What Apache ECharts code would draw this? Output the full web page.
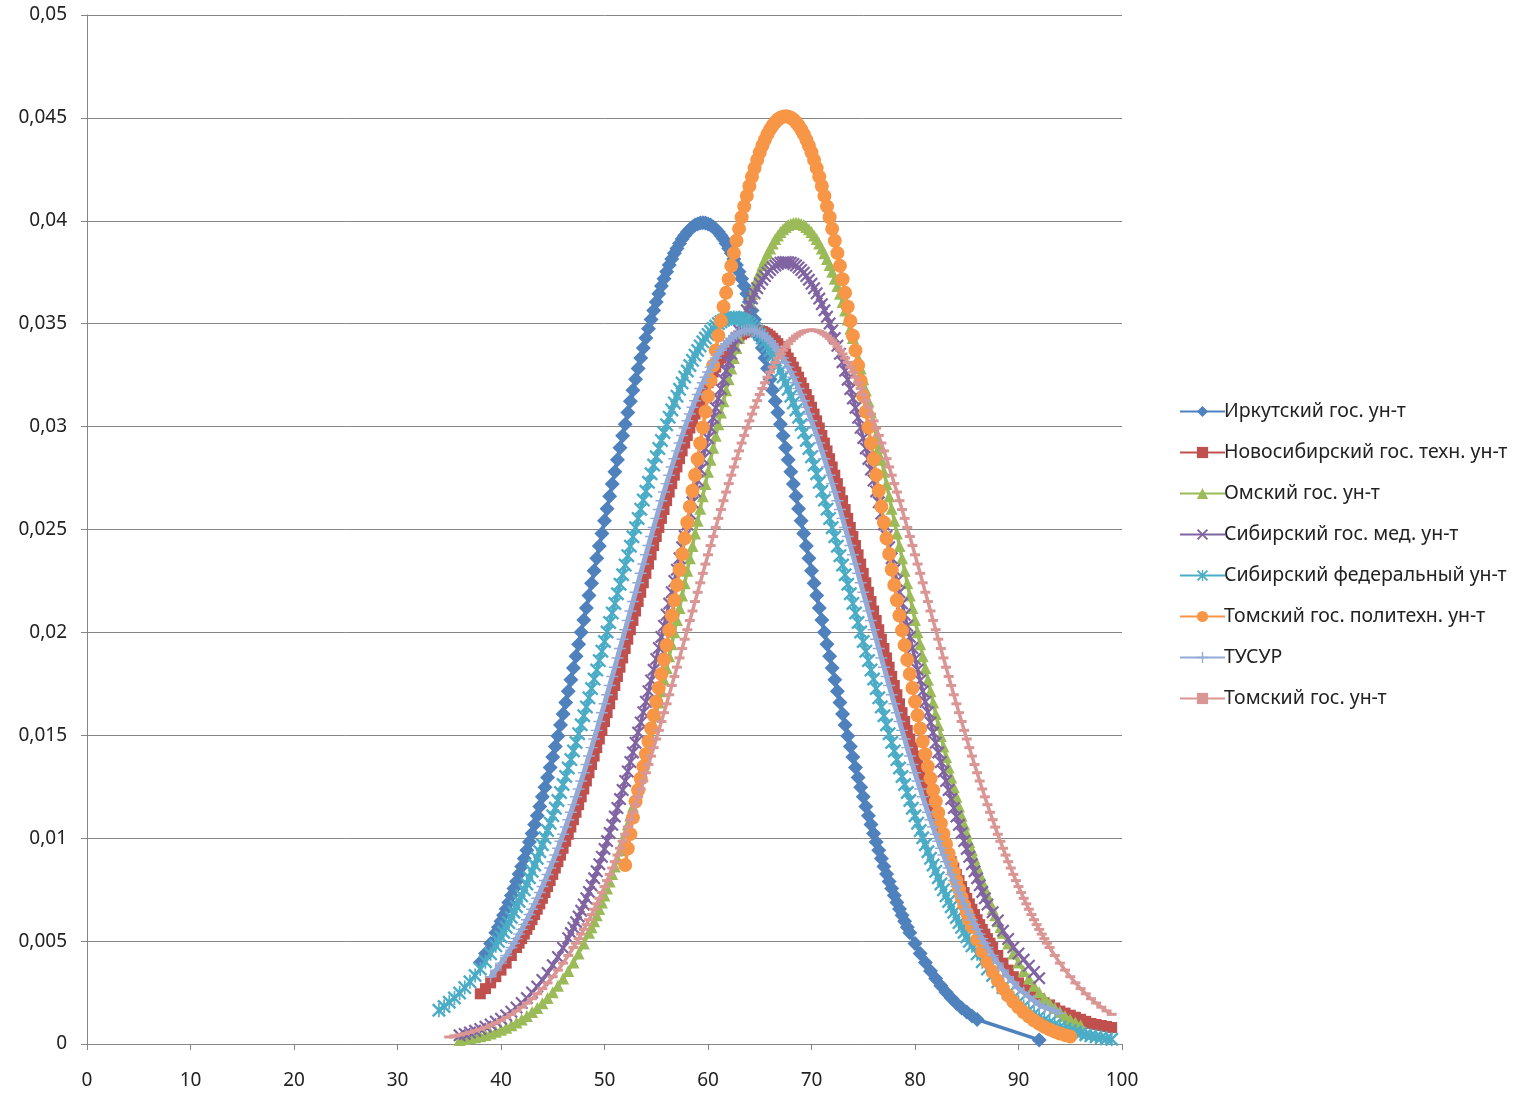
<!DOCTYPE html>
<html>
<head>
<meta charset="utf-8">
<script src="https://cdn.jsdelivr.net/npm/echarts@6/dist/echarts.min.js"></script>
<style>
html,body{margin:0;padding:0;background:#fff;}
#chart{width:1514px;height:1093px;}
</style>
</head>
<body>
<div id="chart"></div>
<script>
// ---- data ----
var seriesNames = [
  'Иркутский гос. ун-т',
  'Новосибирский гос. техн. ун-т',
  'Омский гос. ун-т',
  'Сибирский гос. мед. ун-т',
  'Сибирский федеральный ун-т',
  'Томский гос. политехн. ун-т',
  'ТУСУР',
  'Томский гос. ун-т'
];

var yTickLabels = ['0','0,005','0,01','0,015','0,02','0,025','0,03','0,035','0,04','0,045','0,05'];
var xTickLabels = ['0','10','20','30','40','50','60','70','80','90','100'];

// x positions of the sampled scores (denser where the curves are steep)
function seg(a, b, st) { var r = []; for (var v = a; v <= b + 1e-9; v += st) r.push(Math.round(v * 100) / 100); return r; }

var irkX = seg(38, 39, 0.5).concat(seg(39.5, 79.5, 0.25), seg(80, 86, 0.5), [92]);
var irkY = [
  0.00396,0.00440,0.00488,
  0.00540,0.00567,0.00596,0.00626,0.00656,0.00688,0.00721,0.00755,0.00790,0.00826,
  0.00863,0.00901,0.00941,0.00981,0.01023,0.01066,0.01109,0.01154,0.01201,0.01247,
  0.01295,0.01344,0.01395,0.01446,0.01497,0.01550,0.01604,0.01659,0.01714,0.01770,
  0.01827,0.01884,0.01942,0.02001,0.02060,0.02119,0.02179,0.02239,0.02300,0.02360,
  0.02420,0.02481,0.02542,0.02601,0.02661,0.02721,0.02781,0.02839,0.02897,0.02955,
  0.03012,0.03068,0.03123,0.03177,0.03230,0.03282,0.03333,0.03382,0.03430,0.03476,
  0.03521,0.03564,0.03606,0.03645,0.03683,0.03719,0.03753,0.03785,0.03814,0.03842,
  0.03866,0.03890,0.03911,0.03929,0.03945,0.03959,0.03970,0.03979,0.03985,0.03989,
  0.03990,
  0.03989,0.03985,0.03979,0.03970,0.03959,0.03945,0.03929,0.03911,0.03890,0.03866,
  0.03842,0.03814,0.03785,0.03753,0.03719,0.03683,0.03645,0.03606,0.03564,0.03521,
  0.03476,0.03430,0.03382,0.03333,0.03282,0.03230,0.03177,0.03123,0.03068,0.03012,
  0.02955,0.02897,0.02839,0.02781,0.02721,0.02661,0.02601,0.02542,0.02481,0.02420,
  0.02360,0.02300,0.02239,0.02179,0.02119,0.02060,0.02001,0.01942,0.01884,0.01827,
  0.01770,0.01714,0.01659,0.01604,0.01550,0.01497,0.01446,0.01395,0.01344,0.01295,
  0.01247,0.01201,0.01154,0.01109,0.01066,0.01023,0.00981,0.00941,0.00901,0.00863,
  0.00826,0.00790,0.00755,0.00721,0.00688,0.00656,0.00626,0.00596,0.00567,0.00540,
  0.00488,0.00440,0.00396,0.00355,0.00318,0.00283,0.00252,0.00224,0.00198,0.00175,
  0.00155,0.00136,0.00119,
  0.00020];

var nstuX = seg(38, 41, 0.5).concat(seg(41.5, 87.5, 0.25), seg(88, 99, 0.5));
var nstuY = [
  0.00244,0.00269,0.00297,0.00327,0.00359,0.00393,0.00430,
  0.00469,0.00490,0.00512,0.00534,0.00557,0.00580,0.00604,0.00629,0.00655,0.00681,
  0.00708,0.00736,0.00765,0.00794,0.00824,0.00855,0.00886,0.00918,0.00951,0.00985,
  0.01019,0.01054,0.01090,0.01126,0.01163,0.01201,0.01239,0.01278,0.01318,0.01358,
  0.01399,0.01440,0.01482,0.01524,0.01567,0.01610,0.01653,0.01697,0.01742,0.01786,
  0.01831,0.01876,0.01922,0.01967,0.02013,0.02058,0.02104,0.02150,0.02195,0.02241,
  0.02287,0.02332,0.02377,0.02422,0.02466,0.02510,0.02554,0.02597,0.02640,0.02682,
  0.02723,0.02764,0.02804,0.02844,0.02882,0.02920,0.02957,0.02993,0.03028,0.03061,
  0.03094,0.03126,0.03156,0.03185,0.03213,0.03240,0.03265,0.03289,0.03312,0.03333,
  0.03353,0.03371,0.03388,0.03403,0.03417,0.03429,0.03440,0.03449,0.03456,0.03462,
  0.03466,0.03468,0.03469,
  0.03468,0.03466,0.03462,0.03456,0.03449,0.03440,0.03429,0.03417,0.03403,0.03388,
  0.03371,0.03353,0.03333,0.03312,0.03289,0.03265,0.03240,0.03213,0.03185,0.03156,
  0.03126,0.03094,0.03061,0.03028,0.02993,0.02957,0.02920,0.02882,0.02844,0.02804,
  0.02764,0.02723,0.02682,0.02640,0.02597,0.02554,0.02510,0.02466,0.02422,0.02377,
  0.02332,0.02287,0.02241,0.02195,0.02150,0.02104,0.02058,0.02013,0.01967,0.01922,
  0.01876,0.01831,0.01786,0.01742,0.01697,0.01653,0.01610,0.01567,0.01524,0.01482,
  0.01440,0.01399,0.01358,0.01318,0.01278,0.01239,0.01201,0.01163,0.01126,0.01090,
  0.01054,0.01019,0.00985,0.00951,0.00918,0.00886,0.00855,0.00824,0.00794,0.00765,
  0.00736,0.00708,0.00681,0.00655,0.00629,0.00604,0.00580,0.00557,0.00534,0.00512,
  0.00490,0.00469,
  0.00430,0.00393,0.00359,0.00327,0.00297,
  0.00280,0.00260,0.00240,0.00220,0.00200,0.00190,0.00175,0.00160,0.00150,0.00140,
  0.00130,0.00120,0.00110,0.00100,0.00095,0.00090,0.00085,0.00080];

var omskX = seg(36, 48, 0.5).concat(seg(48.5, 88.5, 0.25), seg(89, 96, 0.5));
var omskY = [
  0.00020,0.00024,0.00028,0.00033,0.00038,0.00044,0.00051,0.00060,0.00069,0.00079,
  0.00091,0.00104,0.00119,0.00136,0.00155,0.00175,0.00198,0.00224,0.00252,0.00283,
  0.00318,0.00355,0.00396,0.00440,0.00488,
  0.00540,0.00567,0.00596,0.00626,0.00656,0.00688,0.00721,0.00755,0.00790,0.00826,
  0.00863,0.00901,0.00941,0.00981,0.01023,0.01066,0.01109,0.01154,0.01201,0.01247,
  0.01295,0.01344,0.01395,0.01446,0.01497,0.01550,0.01604,0.01659,0.01714,0.01770,
  0.01827,0.01884,0.01942,0.02001,0.02060,0.02119,0.02179,0.02239,0.02300,0.02360,
  0.02420,0.02481,0.02542,0.02601,0.02661,0.02721,0.02781,0.02839,0.02897,0.02955,
  0.03012,0.03068,0.03123,0.03177,0.03230,0.03282,0.03333,0.03382,0.03430,0.03476,
  0.03521,0.03564,0.03606,0.03645,0.03683,0.03719,0.03753,0.03785,0.03814,0.03842,
  0.03866,0.03890,0.03911,0.03929,0.03945,0.03959,0.03970,0.03979,0.03985,0.03989,
  0.03990,
  0.03989,0.03985,0.03979,0.03970,0.03959,0.03945,0.03929,0.03911,0.03890,0.03866,
  0.03842,0.03814,0.03785,0.03753,0.03719,0.03683,0.03645,0.03606,0.03564,0.03521,
  0.03476,0.03430,0.03382,0.03333,0.03282,0.03230,0.03177,0.03123,0.03068,0.03012,
  0.02955,0.02897,0.02839,0.02781,0.02721,0.02661,0.02601,0.02542,0.02481,0.02420,
  0.02360,0.02300,0.02239,0.02179,0.02119,0.02060,0.02001,0.01942,0.01884,0.01827,
  0.01770,0.01714,0.01659,0.01604,0.01550,0.01497,0.01446,0.01395,0.01344,0.01295,
  0.01247,0.01201,0.01154,0.01109,0.01066,0.01023,0.00981,0.00941,0.00901,0.00863,
  0.00826,0.00790,0.00755,0.00721,0.00688,0.00656,0.00626,0.00596,0.00567,0.00540,
  0.00488,0.00440,0.00396,0.00355,0.00318,0.00283,0.00252,0.00224,0.00198,0.00175,
  0.00155,0.00136,0.00119,0.00104,0.00091];

var ssmuX = seg(36, 46, 0.5).concat(seg(46.5, 87, 0.25), seg(87.5, 92, 0.5));
var ssmuY = [
  0.00042,0.00049,0.00056,0.00064,0.00073,0.00084,0.00095,0.00109,0.00123,0.00139,
  0.00157,0.00177,0.00199,0.00223,0.00250,0.00279,0.00311,0.00345,0.00383,0.00423,
  0.00467,
  0.00514,0.00539,0.00565,0.00592,0.00619,0.00648,0.00678,0.00708,0.00739,0.00771,
  0.00805,0.00839,0.00874,0.00910,0.00948,0.00986,0.01025,0.01065,0.01105,0.01147,
  0.01190,0.01234,0.01278,0.01324,0.01370,0.01417,0.01464,0.01513,0.01562,0.01612,
  0.01663,0.01714,0.01766,0.01818,0.01871,0.01924,0.01978,0.02032,0.02086,0.02140,
  0.02195,0.02250,0.02305,0.02360,0.02414,0.02469,0.02524,0.02578,0.02632,0.02685,
  0.02738,0.02791,0.02843,0.02894,0.02944,0.02994,0.03043,0.03091,0.03137,0.03183,
  0.03228,0.03271,0.03313,0.03354,0.03393,0.03430,0.03467,0.03501,0.03534,0.03565,
  0.03595,0.03622,0.03648,0.03672,0.03694,0.03714,0.03732,0.03748,0.03761,0.03773,
  0.03783,0.03790,0.03796,0.03799,0.03800,
  0.03799,0.03796,0.03790,0.03783,0.03773,0.03761,0.03748,0.03732,0.03714,0.03694,
  0.03672,0.03648,0.03622,0.03595,0.03565,0.03534,0.03501,0.03467,0.03430,0.03393,
  0.03354,0.03313,0.03271,0.03228,0.03183,0.03137,0.03091,0.03043,0.02994,0.02944,
  0.02894,0.02843,0.02791,0.02738,0.02685,0.02632,0.02578,0.02524,0.02469,0.02414,
  0.02360,0.02305,0.02250,0.02195,0.02140,0.02086,0.02032,0.01978,0.01924,0.01871,
  0.01818,0.01766,0.01714,0.01663,0.01612,0.01562,0.01513,0.01464,0.01417,0.01370,
  0.01324,0.01278,0.01234,0.01190,0.01147,0.01105,0.01065,0.01025,0.00986,0.00948,
  0.00910,0.00874,0.00839,0.00805,0.00771,0.00739,0.00708,0.00678,
  0.00640,0.00600,0.00550,0.00510,0.00470,0.00440,0.00410,0.00380,0.00350,0.00320];

var sfuX = seg(34, 39, 0.5).concat(seg(39.5, 85.5, 0.25), seg(86, 99, 0.5));
var sfuY = [
  0.00164,0.00182,0.00203,0.00224,0.00248,0.00274,0.00302,0.00333,0.00365,0.00400,
  0.00438,
  0.00477,0.00499,0.00521,0.00543,0.00567,0.00590,0.00615,0.00640,0.00667,0.00693,
  0.00720,0.00749,0.00778,0.00808,0.00839,0.00870,0.00902,0.00934,0.00968,0.01002,
  0.01037,0.01073,0.01109,0.01146,0.01183,0.01222,0.01261,0.01300,0.01341,0.01382,
  0.01424,0.01465,0.01508,0.01551,0.01595,0.01638,0.01682,0.01727,0.01773,0.01817,
  0.01863,0.01909,0.01956,0.02002,0.02048,0.02094,0.02141,0.02188,0.02234,0.02280,
  0.02327,0.02373,0.02419,0.02465,0.02509,0.02554,0.02599,0.02643,0.02686,0.02729,
  0.02771,0.02813,0.02853,0.02894,0.02933,0.02971,0.03009,0.03046,0.03081,0.03115,
  0.03148,0.03181,0.03212,0.03241,0.03270,0.03297,0.03322,0.03347,0.03370,0.03392,
  0.03412,0.03430,0.03448,0.03463,0.03477,0.03489,0.03501,0.03510,0.03517,0.03523,
  0.03527,0.03529,0.03530,
  0.03529,0.03527,0.03523,0.03517,0.03510,0.03501,0.03489,0.03477,0.03463,0.03448,
  0.03430,0.03412,0.03392,0.03370,0.03347,0.03322,0.03297,0.03270,0.03241,0.03212,
  0.03181,0.03148,0.03115,0.03081,0.03046,0.03009,0.02971,0.02933,0.02894,0.02853,
  0.02813,0.02771,0.02729,0.02686,0.02643,0.02599,0.02554,0.02509,0.02465,0.02419,
  0.02373,0.02327,0.02280,0.02234,0.02188,0.02141,0.02094,0.02048,0.02002,0.01956,
  0.01909,0.01863,0.01817,0.01773,0.01727,0.01682,0.01638,0.01595,0.01551,0.01508,
  0.01465,0.01424,0.01382,0.01341,0.01300,0.01261,0.01222,0.01183,0.01146,0.01109,
  0.01073,0.01037,0.01002,0.00968,0.00934,0.00902,0.00870,0.00839,0.00808,0.00778,
  0.00749,0.00720,0.00693,0.00667,0.00640,0.00615,0.00590,0.00567,0.00543,0.00521,
  0.00499,0.00477,
  0.00438,0.00400,0.00365,0.00333,0.00302,0.00274,0.00248,0.00224,0.00203,0.00182,
  0.00164,0.00147,0.00131,0.00117,0.00105,0.00094,0.00082,0.00073,0.00065,0.00058,
  0.00051,0.00045,0.00040,0.00035,0.00031,0.00026,0.00023];

var tpuX = seg(52, 85.5, 0.25).concat(seg(86, 95, 0.5));
var tpuY = [
  0.00870,0.00950,0.01020,0.01100,
  0.01178,0.01233,0.01290,0.01348,0.01408,0.01470,0.01533,0.01597,0.01663,0.01730,
  0.01798,0.01867,0.01938,0.02010,0.02082,0.02156,0.02230,0.02305,0.02381,0.02457,
  0.02534,0.02611,0.02688,0.02765,0.02842,0.02919,0.02996,0.03072,0.03148,0.03223,
  0.03297,0.03370,0.03442,0.03513,0.03582,0.03650,0.03716,0.03781,0.03843,0.03903,
  0.03961,0.04017,0.04070,0.04121,0.04169,0.04214,0.04256,0.04296,0.04332,0.04365,
  0.04394,0.04421,0.04444,0.04463,0.04479,0.04492,0.04501,0.04506,0.04508,
  0.04506,0.04501,0.04492,0.04479,0.04463,0.04444,0.04421,0.04394,0.04365,0.04332,
  0.04296,0.04256,0.04214,0.04169,0.04121,0.04070,0.04017,0.03961,0.03903,0.03843,
  0.03781,0.03716,0.03650,0.03582,0.03513,0.03442,0.03370,0.03297,0.03223,0.03148,
  0.03072,0.02996,0.02919,0.02842,0.02765,0.02688,0.02611,0.02534,0.02457,0.02381,
  0.02305,0.02230,0.02156,0.02082,0.02010,0.01938,0.01867,0.01798,0.01730,0.01663,
  0.01597,0.01533,0.01470,0.01408,0.01348,0.01290,0.01233,0.01178,0.01124,0.01072,
  0.01021,0.00972,0.00925,0.00880,0.00835,0.00793,0.00752,0.00712,0.00675,0.00638,
  0.00603,0.00570,
  0.00507,0.00450,0.00398,0.00351,0.00308,0.00270,0.00236,0.00205,0.00178,0.00154,
  0.00133,0.00114,0.00098,0.00083,0.00071,0.00060,0.00051,0.00043,0.00036];

var tusurX = seg(39, 40.5, 0.5).concat(seg(41, 87, 0.25), seg(87.5, 94, 0.5));
var tusurY = [
  0.00327,0.00359,0.00393,0.00430,
  0.00469,0.00490,0.00512,0.00534,0.00557,0.00580,0.00604,0.00629,0.00655,0.00681,
  0.00708,0.00736,0.00765,0.00794,0.00824,0.00855,0.00886,0.00918,0.00951,0.00985,
  0.01019,0.01054,0.01090,0.01126,0.01163,0.01201,0.01239,0.01278,0.01318,0.01358,
  0.01399,0.01440,0.01482,0.01524,0.01567,0.01610,0.01653,0.01697,0.01742,0.01786,
  0.01831,0.01876,0.01922,0.01967,0.02013,0.02058,0.02104,0.02150,0.02195,0.02241,
  0.02287,0.02332,0.02377,0.02422,0.02466,0.02510,0.02554,0.02597,0.02640,0.02682,
  0.02723,0.02764,0.02804,0.02844,0.02882,0.02920,0.02957,0.02993,0.03028,0.03061,
  0.03094,0.03126,0.03156,0.03185,0.03213,0.03240,0.03265,0.03289,0.03312,0.03333,
  0.03353,0.03371,0.03388,0.03403,0.03417,0.03429,0.03440,0.03449,0.03456,0.03462,
  0.03466,0.03468,0.03469,
  0.03468,0.03466,0.03462,0.03456,0.03449,0.03440,0.03429,0.03417,0.03403,0.03388,
  0.03371,0.03353,0.03333,0.03312,0.03289,0.03265,0.03240,0.03213,0.03185,0.03156,
  0.03126,0.03094,0.03061,0.03028,0.02993,0.02957,0.02920,0.02882,0.02844,0.02804,
  0.02764,0.02723,0.02682,0.02640,0.02597,0.02554,0.02510,0.02466,0.02422,0.02377,
  0.02332,0.02287,0.02241,0.02195,0.02150,0.02104,0.02058,0.02013,0.01967,0.01922,
  0.01876,0.01831,0.01786,0.01742,0.01697,0.01653,0.01610,0.01567,0.01524,0.01482,
  0.01440,0.01399,0.01358,0.01318,0.01278,0.01239,0.01201,0.01163,0.01126,0.01090,
  0.01054,0.01019,0.00985,0.00951,0.00918,0.00886,0.00855,0.00824,0.00794,0.00765,
  0.00736,0.00708,0.00681,0.00655,0.00629,0.00604,0.00580,0.00557,0.00534,0.00512,
  0.00490,0.00469,
  0.00430,0.00393,0.00359,0.00327,
  0.00300,0.00270,0.00250,0.00230,0.00210,0.00190,0.00180,0.00170,0.00160,0.00150];

var tsuX = seg(35, 46.5, 0.5).concat(seg(47, 93, 0.25), seg(93.5, 99, 0.5));
var tsuY = [
  0.00034,0.00039,0.00044,0.00050,0.00057,0.00064,0.00072,0.00081,0.00092,0.00103,
  0.00115,0.00129,0.00144,0.00161,0.00179,0.00199,0.00220,0.00244,0.00269,0.00297,
  0.00327,0.00359,0.00393,0.00430,
  0.00469,0.00490,0.00512,0.00534,0.00557,0.00580,0.00604,0.00629,0.00655,0.00681,
  0.00708,0.00736,0.00765,0.00794,0.00824,0.00855,0.00886,0.00918,0.00951,0.00985,
  0.01019,0.01054,0.01090,0.01126,0.01163,0.01201,0.01239,0.01278,0.01318,0.01358,
  0.01399,0.01440,0.01482,0.01524,0.01567,0.01610,0.01653,0.01697,0.01742,0.01786,
  0.01831,0.01876,0.01922,0.01967,0.02013,0.02058,0.02104,0.02150,0.02195,0.02241,
  0.02287,0.02332,0.02377,0.02422,0.02466,0.02510,0.02554,0.02597,0.02640,0.02682,
  0.02723,0.02764,0.02804,0.02844,0.02882,0.02920,0.02957,0.02993,0.03028,0.03061,
  0.03094,0.03126,0.03156,0.03185,0.03213,0.03240,0.03265,0.03289,0.03312,0.03333,
  0.03353,0.03371,0.03388,0.03403,0.03417,0.03429,0.03440,0.03449,0.03456,0.03462,
  0.03466,0.03468,0.03469,
  0.03468,0.03466,0.03462,0.03456,0.03449,0.03440,0.03429,0.03417,0.03403,0.03388,
  0.03371,0.03353,0.03333,0.03312,0.03289,0.03265,0.03240,0.03213,0.03185,0.03156,
  0.03126,0.03094,0.03061,0.03028,0.02993,0.02957,0.02920,0.02882,0.02844,0.02804,
  0.02764,0.02723,0.02682,0.02640,0.02597,0.02554,0.02510,0.02466,0.02422,0.02377,
  0.02332,0.02287,0.02241,0.02195,0.02150,0.02104,0.02058,0.02013,0.01967,0.01922,
  0.01876,0.01831,0.01786,0.01742,0.01697,0.01653,0.01610,0.01567,0.01524,0.01482,
  0.01440,0.01399,0.01358,0.01318,0.01278,0.01239,0.01201,0.01163,0.01126,0.01090,
  0.01054,0.01019,0.00985,0.00951,0.00918,0.00886,0.00855,0.00824,0.00794,0.00765,
  0.00736,0.00708,0.00681,0.00655,0.00629,0.00604,0.00580,0.00557,0.00534,0.00512,
  0.00490,0.00469,
  0.00430,0.00393,0.00359,0.00327,0.00297,0.00269,0.00244,0.00220,0.00199,0.00179,
  0.00161,0.00144];

// ---- presentation ----
var colors = ['#4F81BD','#C0504D','#9BBB59','#8064A2','#4BACC6','#F79646','#93A9D6','#DA9694'];
var symX = 'path://M0,1.2L1.2,0L5,3.8L8.8,0L10,1.2L6.2,5L10,8.8L8.8,10L5,6.2L1.2,10L0,8.8L3.8,5Z';
var symAst = 'path://M4.4,0H5.6V10H4.4Z M0,1.2L1.2,0L5,3.8L8.8,0L10,1.2L6.2,5L10,8.8L8.8,10L5,6.2L1.2,10L0,8.8L3.8,5Z';
var symPlus = 'path://M4.4,0H5.6V4.4H10V5.6H5.6V10H4.4V5.6H0V4.4H4.4Z';
var symbols = ['diamond','rect','triangle',symX,symAst,'circle',symPlus,'rect'];
var symbolSizes = [15,11,12,13,14,14,12,[10,3]];
var lineWidths = [3.5,3.5,3.5,3.5,3.5,3.5,5,3.5];

var xs = [irkX,nstuX,omskX,ssmuX,sfuX,tpuX,tusurX,tsuX];
var ys = [irkY,nstuY,omskY,ssmuY,sfuY,tpuY,tusurY,tsuY];

var series = seriesNames.map(function (name, i) {
  var n = Math.min(xs[i].length, ys[i].length);
  var data = [];
  for (var k = 0; k < n; k++) data.push([xs[i][k], ys[i][k]]);
  return {
    name: name,
    type: 'line',
    data: data,
    symbol: symbols[i],
    symbolSize: symbolSizes[i],
    showSymbol: true,
    showAllSymbol: true,
    smooth: false,
    color: colors[i],
    lineStyle: { width: lineWidths[i], color: colors[i] },
    itemStyle: { color: colors[i] },
    emphasis: { disabled: true },
    z: 2 + i
  };
});

var chart = echarts.init(document.getElementById('chart'), null, { renderer: 'canvas' });
chart.setOption({
  animation: false,
  backgroundColor: '#ffffff',
  grid: { left: 87, top: 15, width: 1035, height: 1029, containLabel: false },
  legend: {
    orient: 'vertical',
    left: 1174,
    top: 396,
    itemWidth: 45,
    itemHeight: 14,
    itemGap: 20,
    data: seriesNames,
    textStyle: { fontFamily: 'Noto Sans', fontSize: 19.5, color: '#222', lineHeight: 21, padding: [0,0,0,-6] }
  },
  xAxis: {
    type: 'value',
    min: 0, max: 100, interval: 10,
    axisLine: { show: true, lineStyle: { color: '#868686', width: 1 } },
    axisTick: { show: true, length: 6, lineStyle: { color: '#868686' } },
    axisLabel: {
      margin: 27,
      fontFamily: 'Noto Sans', fontSize: 19, color: '#222',
      formatter: function (v) { return xTickLabels[Math.round(v / 10)]; }
    },
    splitLine: { show: false }
  },
  yAxis: {
    type: 'value',
    min: 0, max: 0.05, interval: 0.005,
    axisLine: { show: true, lineStyle: { color: '#868686', width: 1 } },
    axisTick: { show: true, length: 6, lineStyle: { color: '#868686' } },
    axisLabel: {
      margin: 20,
      fontFamily: 'Noto Sans', fontSize: 19, color: '#222',
      formatter: function (v) { return yTickLabels[Math.round(v / 0.005)]; }
    },
    splitLine: { show: true, lineStyle: { color: '#868686', width: 1 } }
  },
  series: series
});
</script>
</body>
</html>
